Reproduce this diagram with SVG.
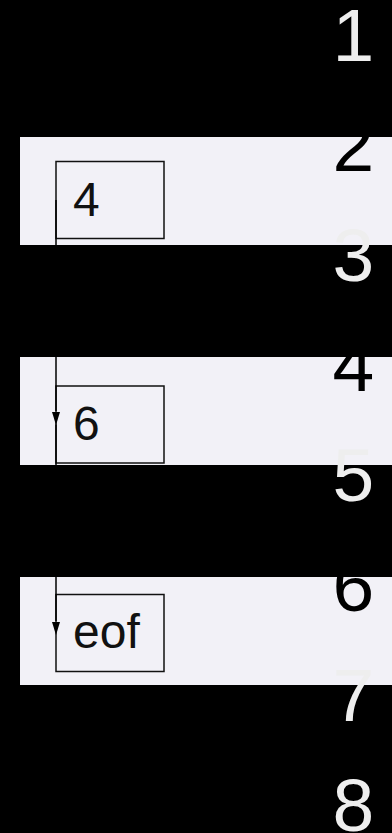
<svg xmlns="http://www.w3.org/2000/svg" width="392" height="833" viewBox="0 0 392 833">
<style>
.band{fill:#f2f1f7}
.box{fill:none;stroke:#111;stroke-width:1.5}
.lbl{font-family:"Liberation Sans",Arial,sans-serif;font-size:48px;fill:#111}
.num{font-family:"Liberation Sans",Arial,sans-serif;font-size:75px}
</style>
<defs>
<path id="arrowhead" d="M-4,-13 L4,-13 L0,0 Z" fill="#000"/>
</defs>
<rect x="0" y="0" width="392" height="833" fill="#000"/>
<rect class="band" x="20" y="137" width="372" height="108"/>
<rect class="band" x="20" y="357" width="372" height="108"/>
<rect class="band" x="20" y="577" width="372" height="108"/>
<g id="node-4">
<rect class="box" x="56" y="161.5" width="108" height="77"/>
<text class="lbl" x="73" y="216">4</text>
</g>
<g id="node-6">
<rect class="box" x="56" y="386" width="108" height="77"/>
<text class="lbl" x="73" y="440">6</text>
</g>
<g id="node-eof">
<rect class="box" x="56" y="594.5" width="108" height="77"/>
<text class="lbl" x="73" y="648">eof</text>
</g>
<g id="connectors">
<line x1="56" y1="200" x2="56" y2="411" stroke="#000" stroke-width="1.5"/>
<use href="#arrowhead" x="56" y="425"/>
<line x1="56" y1="424.5" x2="56" y2="621" stroke="#000" stroke-width="1.5"/>
<use href="#arrowhead" x="56" y="635"/>
</g>
<g id="line-numbers">
<text class="num" fill="#eeeeee" x="332.5" y="61">1</text>
<text class="num" fill="#000000" x="332.5" y="171">2</text>
<text class="num" fill="#eeeeee" x="332.5" y="281">3</text>
<text class="num" fill="#000000" x="332.5" y="391">4</text>
<text class="num" fill="#eeeeee" x="332.5" y="501">5</text>
<text class="num" fill="#000000" x="332.5" y="611">6</text>
<text class="num" fill="#eeeeee" x="332.5" y="721">7</text>
<text class="num" fill="#eeeeee" x="332.5" y="831">8</text>
</g>
</svg>
